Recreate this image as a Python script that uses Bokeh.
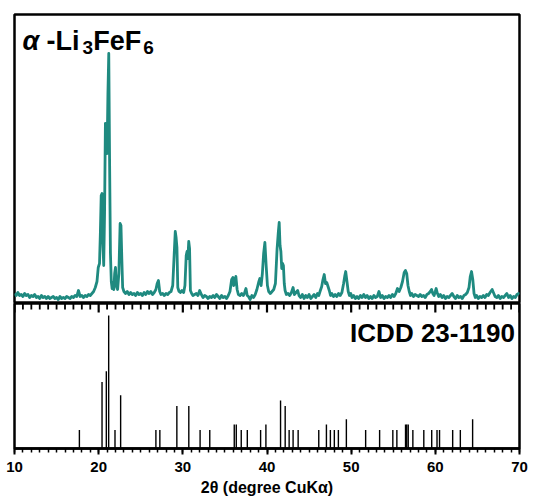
from bokeh.plotting import figure
from bokeh.models import Range1d, SingleIntervalTicker, Label
from bokeh.layouts import column
from bokeh.embed import file_html
from bokeh.resources import INLINE

# ---- measured XRD pattern (2theta in degrees, intensity in arbitrary units) ----
two_theta = [
    10.0, 10.2, 10.4, 10.6, 10.8, 11.0, 11.2, 11.4, 11.6, 11.8, 12.0, 12.2, 12.4, 12.6, 12.8,
    13.0, 13.2, 13.4, 13.6, 13.8, 14.0, 14.2, 14.4, 14.6, 14.8, 15.0, 15.2, 15.4, 15.6, 15.8,
    16.0, 16.2, 16.4, 16.6, 16.8, 17.0, 17.2, 17.4, 17.6, 17.8, 18.0, 18.2, 18.4, 18.6, 18.8,
    19.0, 19.2, 19.4, 19.6, 19.8, 19.95, 20.1, 20.2, 20.3, 20.4, 20.5, 20.6, 20.7, 20.8, 20.9,
    21.0, 21.1, 21.2, 21.3, 21.4, 21.5, 21.6, 21.7, 21.8, 21.9, 22.0, 22.1, 22.25, 22.4, 22.55,
    22.65, 22.75, 22.85, 23.0, 23.2, 23.4, 23.6, 23.8, 24.0, 24.2, 24.4, 24.6, 24.8, 25.0, 25.2,
    25.4, 25.6, 25.8, 26.0, 26.2, 26.4, 26.6, 26.8, 26.95, 27.1, 27.25, 27.4, 27.6, 27.8, 28.0,
    28.2, 28.4, 28.6, 28.8, 28.95, 29.1, 29.2, 29.3, 29.4, 29.55, 29.7, 29.9, 30.1, 30.25, 30.4,
    30.5, 30.6, 30.7, 30.8, 30.9, 31.05, 31.2, 31.4, 31.6, 31.8, 32.0, 32.2, 32.4, 32.6, 32.8,
    33.0, 33.2, 33.4, 33.6, 33.8, 34.0, 34.2, 34.4, 34.6, 34.8, 35.0, 35.2, 35.4, 35.6, 35.8,
    35.95, 36.05, 36.15, 36.3, 36.45, 36.6, 36.8, 37.0, 37.2, 37.35, 37.5, 37.65, 37.8, 38.0, 38.2,
    38.4, 38.6, 38.8, 39.0, 39.15, 39.3, 39.45, 39.6, 39.75, 39.9, 40.05, 40.2, 40.4, 40.6, 40.8,
    41.0, 41.2, 41.35, 41.45, 41.55, 41.65, 41.75, 41.85, 41.95, 42.05, 42.15, 42.3, 42.5, 42.7, 42.9,
    43.1, 43.25, 43.45, 43.65, 43.8, 44.0, 44.2, 44.4, 44.6, 44.8, 45.0, 45.2, 45.4, 45.6, 45.8,
    46.0, 46.15, 46.3, 46.5, 46.65, 46.8, 46.95, 47.1, 47.25, 47.4, 47.55, 47.7, 47.9, 48.1, 48.3,
    48.5, 48.7, 48.9, 49.1, 49.25, 49.35, 49.5, 49.65, 49.8, 49.95, 50.1, 50.3, 50.5, 50.7, 50.9,
    51.1, 51.3, 51.5, 51.7, 51.9, 52.1, 52.3, 52.5, 52.7, 52.9, 53.1, 53.3, 53.5, 53.7, 53.9,
    54.1, 54.3, 54.5, 54.7, 54.9, 55.1, 55.3, 55.5, 55.7, 55.9, 56.1, 56.3, 56.45, 56.6, 56.75,
    56.9, 57.05, 57.2, 57.4, 57.6, 57.8, 58.0, 58.2, 58.4, 58.6, 58.8, 59.0, 59.2, 59.4, 59.55,
    59.7, 59.85, 60.0, 60.1, 60.25, 60.4, 60.6, 60.8, 61.0, 61.2, 61.4, 61.6, 61.8, 62.0, 62.2,
    62.4, 62.6, 62.8, 63.0, 63.2, 63.4, 63.6, 63.8, 64.0, 64.15, 64.3, 64.45, 64.6, 64.75, 64.9,
    65.1, 65.3, 65.5, 65.7, 65.9, 66.1, 66.3, 66.5, 66.75, 66.95, 67.1, 67.3, 67.5, 67.7, 67.9,
    68.1, 68.3, 68.5, 68.7, 68.9, 69.1, 69.3, 69.5, 69.7, 69.9, 70.0,
]
intensity = [
    10, 8, 11, 8, 9, 7, 10, 8, 9, 6, 8, 7, 9, 6, 7,
    5, 8, 6, 7, 5, 7, 5, 6, 7, 5, 6, 4, 7, 5, 6,
    5, 7, 6, 5, 7, 6, 8, 7, 13, 7, 8, 6, 8, 7, 9,
    8, 10, 12, 16, 22, 36, 40, 70, 108, 110, 60, 38, 90, 180, 175,
    150, 210, 250, 140, 50, 22, 15, 20, 14, 30, 36, 18, 14, 30, 80,
    78, 45, 16, 12, 10, 12, 9, 11, 9, 10, 8, 11, 9, 10, 8,
    11, 9, 12, 10, 12, 9, 11, 14, 20, 23, 12, 9, 10, 8, 10,
    9, 11, 12, 18, 45, 72, 66, 56, 16, 12, 11, 13, 11, 18, 48,
    52, 45, 62, 55, 13, 10, 8, 9, 10, 8, 13, 9, 6, 8, 7,
    5, 7, 6, 8, 6, 9, 7, 5, 8, 6, 7, 5, 8, 12, 24,
    26, 18, 20, 27, 14, 9, 8, 10, 8, 11, 15, 8, 7, 4, 8,
    6, 9, 14, 21, 25, 18, 30, 50, 61, 38, 18, 12, 10, 12, 14,
    20, 55, 72, 81, 58, 52, 35, 40, 38, 20, 13, 9, 10, 8, 11,
    16, 9, 11, 13, 8, 6, 9, 5, 8, 6, 9, 5, 7, 9, 6,
    10, 8, 12, 17, 24, 29, 20, 21, 17, 13, 8, 10, 7, 9, 7,
    10, 8, 11, 20, 28, 32, 22, 12, 8, 10, 6, 8, 5, 7, 5,
    8, 6, 9, 6, 8, 5, 7, 5, 8, 6, 7, 12, 6, 8, 5,
    7, 6, 8, 6, 9, 7, 10, 15, 12, 16, 22, 31, 33, 30, 18,
    12, 8, 10, 7, 9, 8, 7, 9, 7, 8, 6, 9, 10, 12, 14,
    10, 8, 12, 15, 10, 7, 9, 6, 8, 5, 7, 6, 8, 10, 7,
    5, 8, 6, 7, 5, 8, 9, 11, 16, 27, 32, 24, 10, 6, 8,
    5, 7, 6, 8, 6, 9, 8, 11, 14, 10, 7, 6, 8, 5, 7,
    6, 8, 10, 6, 8, 5, 7, 6, 9, 10, 9,
]

# ---- ICDD 23-1190 reference lines (2theta, relative intensity) ----
icdd_two_theta = [
    17.71, 20.40, 20.91, 21.19, 21.94, 22.61, 26.80, 27.27, 29.29, 30.71, 32.05, 33.20,
    36.11, 36.35, 36.94, 37.66, 39.24, 39.87, 41.61, 42.16, 42.63, 43.10, 43.70, 46.15,
    47.06, 47.53, 48.00, 48.48, 49.43, 51.72, 53.38, 54.95, 55.43, 56.46, 56.60, 56.78,
    57.33, 58.63, 59.57, 60.20, 60.50, 62.06, 62.97, 64.43,
]
icdd_intensity = [
    14, 50, 58, 100, 14, 40, 14, 14, 32, 32, 14, 14,
    18, 18, 14, 14, 14, 18, 36, 32, 14, 14, 14, 14,
    18, 14, 14, 14, 22, 14, 14, 14, 14, 18, 18, 18,
    14, 14, 14, 14, 14, 14, 14, 22,
]

x_start, x_end = 10, 70
tick_interval = 10
FONT = "Liberation Sans"
TEAL = "#1f8a80"

# tick positions for the separator between the panels (major every 10, minor every 1)
major_ticks = list(range(x_start, x_end + 1, tick_interval))
minor_ticks = [t for t in range(x_start + 1, x_end) if t % tick_interval]

# ---------------- top panel: measured pattern ----------------
top = figure(width=539, height=303, x_range=Range1d(x_start, x_end), y_range=Range1d(0, 289),
             output_backend="svg", toolbar_location=None,
             x_axis_location=None, y_axis_location=None,
             min_border_left=14, min_border_right=20, min_border_top=14, min_border_bottom=0)
top.grid.visible = False
top.outline_line_color = "black"
top.outline_line_width = 2.5
top.outline_line_alpha = 1.0
top.line(two_theta, intensity, line_color=TEAL, line_width=2.8, line_join="round")

# title: alpha-Li3FeF6 built from pieces (subscripts)
title_parts = [
    (10.96, 263, "α", "27px", "bold italic"),
    (13.80, 263, "-Li", "27px", "bold"),
    (18.07, 256, "3", "19px", "bold"),
    (19.37, 263, "FeF", "27px", "bold"),
    (25.30, 256, "6", "19px", "bold"),
]
for tx, ty, tt, fs, st in title_parts:
    top.add_layout(Label(x=tx, y=ty, text=tt, text_font=FONT, text_font_size=fs,
                         text_font_style=st, text_color="black",
                         text_baseline="alphabetic", text_align="left"))

# ---------------- bottom panel: reference sticks ----------------
y_top_bot = 109
frame_h_bot = 145  # px height of the lower frame, used to size the separator ticks
px = y_top_bot / frame_h_bot
bot = figure(width=539, height=197, x_range=top.x_range, y_range=Range1d(0, y_top_bot),
             output_backend="svg", toolbar_location=None,
             x_axis_location="below", y_axis_location=None,
             min_border_left=14, min_border_right=20, min_border_top=0, min_border_bottom=52)
bot.grid.visible = False
bot.outline_line_color = "black"
bot.outline_line_width = 2.5
bot.outline_line_alpha = 1.0

bot.segment(x0=icdd_two_theta, y0=[0] * len(icdd_two_theta),
            x1=icdd_two_theta, y1=icdd_intensity,
            line_color="black", line_width=1.4)

# inward ticks hanging from the separator line
bot.segment(x0=major_ticks, y0=[y_top_bot] * len(major_ticks),
            x1=major_ticks, y1=[y_top_bot - 9 * px] * len(major_ticks),
            line_color="black", line_width=2.2)
bot.segment(x0=minor_ticks, y0=[y_top_bot] * len(minor_ticks),
            x1=minor_ticks, y1=[y_top_bot - 6 * px] * len(minor_ticks),
            line_color="black", line_width=1.8)

bot.add_layout(Label(x=69.45, y=86.6, text="ICDD 23-1190", text_font=FONT,
                     text_font_size="26px", text_font_style="bold", text_color="black",
                     text_align="right", text_baseline="alphabetic"))

xa = bot.xaxis[0]
xa.ticker = SingleIntervalTicker(interval=tick_interval, num_minor_ticks=10)
xa.axis_line_width = 2.5
xa.axis_line_color = "black"
xa.major_tick_line_width = 2
xa.minor_tick_line_width = 1.5
xa.major_tick_line_color = "black"
xa.minor_tick_line_color = "black"
xa.major_tick_in = 0
xa.major_tick_out = 6
xa.minor_tick_in = 0
xa.minor_tick_out = 4
xa.major_label_standoff = 7
xa.major_label_text_font = FONT
xa.major_label_text_font_style = "bold"
xa.major_label_text_font_size = "15px"
xa.major_label_text_color = "black"
xa.axis_label = "2θ (degree CuKα)"
xa.axis_label_text_font = FONT
xa.axis_label_text_font_style = "bold"
xa.axis_label_text_font_size = "16px"
xa.axis_label_text_color = "black"
xa.axis_label_standoff = 4

layout = column(top, bot, spacing=0)
open("out.html", "w").write(file_html(layout, INLINE))
